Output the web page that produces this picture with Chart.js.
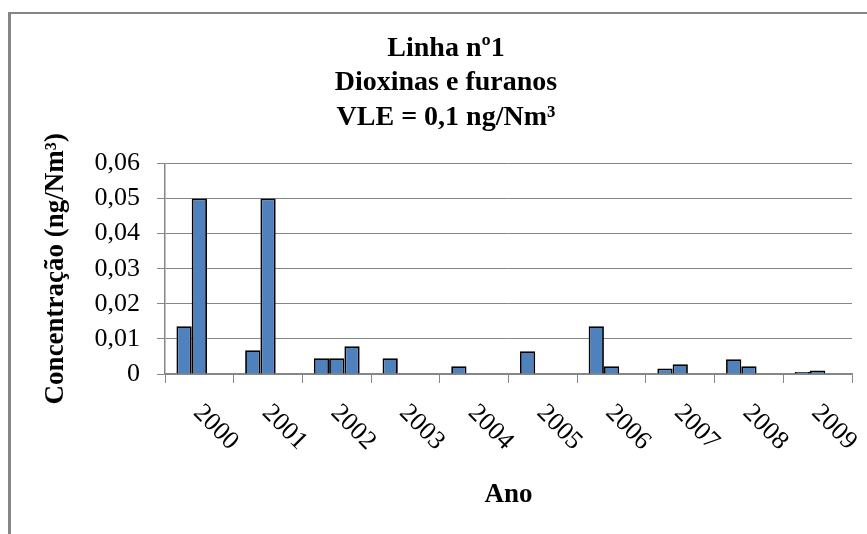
<!DOCTYPE html>
<html>
<head>
<meta charset="utf-8">
<script src="https://cdn.jsdelivr.net/npm/chart.js@4.4.0/dist/chart.umd.min.js"></script>
<style>
  html, body { margin: 0; padding: 0; background: #fff; overflow: hidden; }
  #wrap { position: relative; width: 867px; height: 534px; }
  #frame { position: absolute; left: 8px; top: 12px; right: -10px; bottom: -10px;
           border-top: 2px solid #868686; border-left: 3px solid #868686; }
  canvas { position: absolute; left: 0; top: 0; }
</style>
</head>
<body>
<div id="wrap">
  <div id="frame"></div>
  <canvas id="chart" width="867" height="534"></canvas>
</div>
<script>
const years = ['2000', '2001', '2002', '2003', '2004', '2005', '2006', '2007', '2008', '2009'];
const medicao1 = [0.0136, 0.0068, 0.0045, 0.0045, 0.0022, 0.0065, 0.0136, 0.0016, 0.0042, 0.0006];
const medicao2 = [0.05, 0.05, 0.0045, null, null, null, 0.0022, 0.0028, 0.0022, 0.001];
const medicao3 = [null, null, 0.0079, null, null, null, null, null, null, null];
const yTickLabels = ['0', '0,01', '0,02', '0,03', '0,04', '0,05', '0,06'];

const serif = '"Liberation Serif", "Times New Roman", serif';
const barFill = '#4F81BD';
const axisGrey = '#868686';

// Year labels slanted downwards to the right, drawn at the category centres
const yearLabels = {
  id: 'yearLabels',
  afterDraw(chart) {
    const ctx = chart.ctx;
    const xs = chart.scales.x;
    ctx.save();
    ctx.font = '26px ' + serif;
    ctx.fillStyle = '#000';
    ctx.textAlign = 'left';
    ctx.textBaseline = 'middle';
    years.forEach(function (label, i) {
      ctx.save();
      ctx.translate(xs.getPixelForTick(i) - 2, xs.top + 35);
      ctx.rotate(Math.PI / 4);
      ctx.fillText(label, 0, 0);
      ctx.restore();
    });
    ctx.restore();
  }
};

function barSet(data) {
  return {
    data: data,
    backgroundColor: barFill,
    borderColor: '#000',
    borderWidth: 1.8,
    categoryPercentage: 0.667,
    barPercentage: 1.0,
  };
}

new Chart(document.getElementById('chart'), {
  type: 'bar',
  data: {
    labels: years,
    datasets: [barSet(medicao1), barSet(medicao2), barSet(medicao3)],
  },
  options: {
    responsive: false,
    animation: false,
    devicePixelRatio: 1,
    layout: { padding: { left: 40, right: 15, top: 0, bottom: 23 } },
    plugins: {
      legend: { display: false },
      tooltip: { enabled: false },
      title: {
        display: true,
        text: ['Linha nº1', 'Dioxinas e furanos', 'VLE = 0,1 ng/Nm³'],
        color: '#000',
        font: { family: serif, size: 28, weight: 'bold', lineHeight: 1.22 },
        padding: { top: 32, bottom: 29 },
      },
    },
    scales: {
      x: {
        grid: { drawOnChartArea: false, drawTicks: true, tickLength: 9, color: axisGrey, offset: true },
        border: { display: true, color: axisGrey, width: 1.5 },
        ticks: { display: false },
        title: {
          display: true,
          text: 'Ano',
          color: '#000',
          font: { family: serif, size: 27, weight: 'bold' },
          padding: 0,
        },
        afterFit: function (scale) { scale.height = 137; },
      },
      y: {
        min: 0,
        max: 0.06,
        ticks: {
          stepSize: 0.01,
          color: '#000',
          padding: 17,
          font: { family: serif, size: 26 },
          callback: function (value, index) { return yTickLabels[index]; },
        },
        grid: { color: axisGrey, lineWidth: 1, tickLength: 8 },
        border: { display: true, color: axisGrey, width: 1.5 },
        title: {
          display: true,
          text: 'Concentração (ng/Nm³)',
          color: '#000',
          font: { family: serif, size: 27, weight: 'bold' },
          padding: 0,
        },
        afterFit: function (scale) { scale.width = 125; },
      },
    },
  },
  plugins: [yearLabels],
});
</script>
</body>
</html>
